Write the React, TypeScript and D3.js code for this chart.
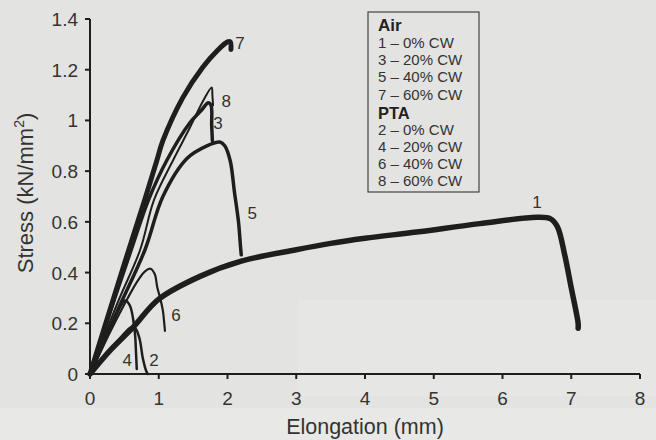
import React from "react";
import * as d3 from "d3";

// stress-strain curves, [elongation mm, stress kN/mm2]
const air0 = [[0, 0], [0.3, 0.095], [0.63, 0.185], [1.0, 0.295], [1.6, 0.385], [2.2, 0.445], [3.0, 0.49], [3.5, 0.515], [4.0, 0.535], [4.75, 0.56], [5.67, 0.593], [6.5, 0.618], [6.7, 0.612], [6.8, 0.58], [6.9, 0.476], [7.0, 0.34], [7.1, 0.2], [7.1, 0.18]];
const air20 = [[0, 0], [0.3, 0.25], [0.6, 0.49], [0.85, 0.686], [1.12, 0.844], [1.45, 0.99], [1.62, 1.04], [1.72, 1.07], [1.76, 1.06], [1.77, 0.98], [1.78, 0.92]];
const air40 = [[0, 0], [0.4, 0.25], [0.8, 0.49], [1.06, 0.7], [1.41, 0.85], [1.7, 0.9], [1.89, 0.915], [1.96, 0.9], [2.04, 0.84], [2.1, 0.72], [2.16, 0.6], [2.19, 0.5], [2.2, 0.47]];
const air60 = [[0, 0], [0.5, 0.435], [0.8, 0.69], [0.97, 0.84], [1.06, 0.92], [1.35, 1.09], [1.64, 1.21], [1.85, 1.275], [2.0, 1.31], [2.04, 1.31], [2.05, 1.28]];
const pta0 = [[0, 0], [0.3, 0.095], [0.6, 0.185], [0.66, 0.18], [0.72, 0.14], [0.77, 0.06], [0.82, 0.01], [0.84, 0]];
const pta20 = [[0, 0], [0.25, 0.15], [0.45, 0.27], [0.51, 0.29], [0.58, 0.27], [0.65, 0.17], [0.67, 0.08], [0.68, 0.02]];
const pta40 = [[0, 0], [0.3, 0.17], [0.55, 0.3], [0.7, 0.37], [0.8, 0.405], [0.88, 0.415], [0.94, 0.395], [0.98, 0.34], [1.02, 0.3], [1.06, 0.25], [1.08, 0.2], [1.09, 0.17]];
const pta60 = [[0, 0], [0.4, 0.28], [0.73, 0.49], [0.93, 0.686], [1.21, 0.844], [1.45, 0.97], [1.65, 1.08], [1.77, 1.13], [1.78, 1.1], [1.79, 1.06]];

const curves = [
  { id: "1", pts: air0, w: 5.5, label: [6.5, 0.655] },
  { id: "2", pts: pta0, w: 2.5, label: [0.93, 0.03] },
  { id: "3", pts: air20, w: 3.5, label: [1.86, 0.966] },
  { id: "4", pts: pta20, w: 2.5, label: [0.54, 0.03] },
  { id: "5", pts: air40, w: 3.5, label: [2.36, 0.61] },
  { id: "6", pts: pta40, w: 2.2, label: [1.25, 0.209] },
  { id: "7", pts: air60, w: 5, label: [2.18, 1.28] },
  { id: "8", pts: pta60, w: 2, label: [1.98, 1.053] },
];

const xTicks = [0, 1, 2, 3, 4, 5, 6, 7, 8];
const yTicks = [0, 0.2, 0.4, 0.6, 0.8, 1, 1.2, 1.4];
const legendAir = ["1 – 0% CW", "3 – 20% CW", "5 – 40% CW", "7 – 60% CW"];
const legendPta = ["2 – 0% CW", "4 – 20% CW", "6 – 40% CW", "8 – 60% CW"];

const W = 656;
const H = 440;
const font = "'Liberation Sans', Arial, sans-serif";
const ink = "#1e1e1e";

export default function App() {
  const x = d3.scaleLinear().domain([0, 8]).range([90, 640]);
  const y = d3.scaleLinear().domain([0, 1.4]).range([374, 19]);
  const line = d3
    .line<number[]>()
    .x((d) => x(d[0]))
    .y((d) => y(d[1]))
    .curve(d3.curveCatmullRom.alpha(0.5));

  const lx = 378;
  const step = 17.2;

  return (
    <svg width={W} height={H} style={{ position: "fixed", left: 0, top: 0 }} fontFamily={font}>
      <rect width={W} height={H} fill="#e3e3e1" />
      <rect x={0} y={408} width={W} height={32} fill="#e8e8e6" />
      <rect x={298} y={300} width={358} height={96} fill="#e6e6e4" />

      {/* axes */}
      <line x1={x(0)} x2={x(8)} y1={y(0)} y2={y(0)} stroke={ink} strokeWidth={2} />
      <line x1={x(0)} x2={x(0)} y1={y(0)} y2={y(1.4)} stroke={ink} strokeWidth={2} />
      {xTicks.map((t) => (
        <g key={"x" + t}>
          <line x1={x(t)} x2={x(t)} y1={y(0)} y2={y(0) + 5} stroke={ink} strokeWidth={2} />
          <text x={x(t)} y={y(0) + 31} textAnchor="middle" fontSize={19} fill="#333">
            {t}
          </text>
        </g>
      ))}
      {yTicks.map((t) => (
        <g key={"y" + t}>
          <line x1={x(0) - 5} x2={x(0)} y1={y(t)} y2={y(t)} stroke={ink} strokeWidth={2} />
          <text x={x(0) - 12} y={y(t) + 7} textAnchor="end" fontSize={19} fill="#333">
            {t}
          </text>
        </g>
      ))}
      <text x={365} y={434} textAnchor="middle" fontSize={21.5} fill="#333">
        Elongation (mm)
      </text>
      <text transform="translate(33,193) rotate(-90)" textAnchor="middle" fontSize={22} fill="#333">
        Stress (kN/mm<tspan fontSize={14} dy={-9}>2</tspan>
        <tspan dy={9}>)</tspan>
      </text>

      {/* curves */}
      {curves.map((c) => (
        <path key={c.id} d={line(c.pts) || ""} fill="none" stroke={ink} strokeWidth={c.w} strokeLinejoin="round" strokeLinecap="round" />
      ))}
      {curves.map((c) => (
        <text key={"l" + c.id} x={x(c.label[0])} y={y(c.label[1])} textAnchor="middle" fontSize={17} fill="#333">
          {c.id}
        </text>
      ))}

      {/* legend */}
      <rect x={368} y={12} width={111} height={180} fill="none" stroke="#444" strokeWidth={1.2} />
      <text x={lx} y={31} fontSize={17} fontWeight="bold" fill="#222">
        Air
      </text>
      {legendAir.map((s, i) => (
        <text key={s} x={lx} y={48 + i * step} fontSize={15} fill="#333">
          {s}
        </text>
      ))}
      <text x={lx} y={118.5} fontSize={16.5} fontWeight="bold" fill="#222">
        PTA
      </text>
      {legendPta.map((s, i) => (
        <text key={s} x={lx} y={134.5 + i * step} fontSize={15} fill="#333">
          {s}
        </text>
      ))}
    </svg>
  );
}
